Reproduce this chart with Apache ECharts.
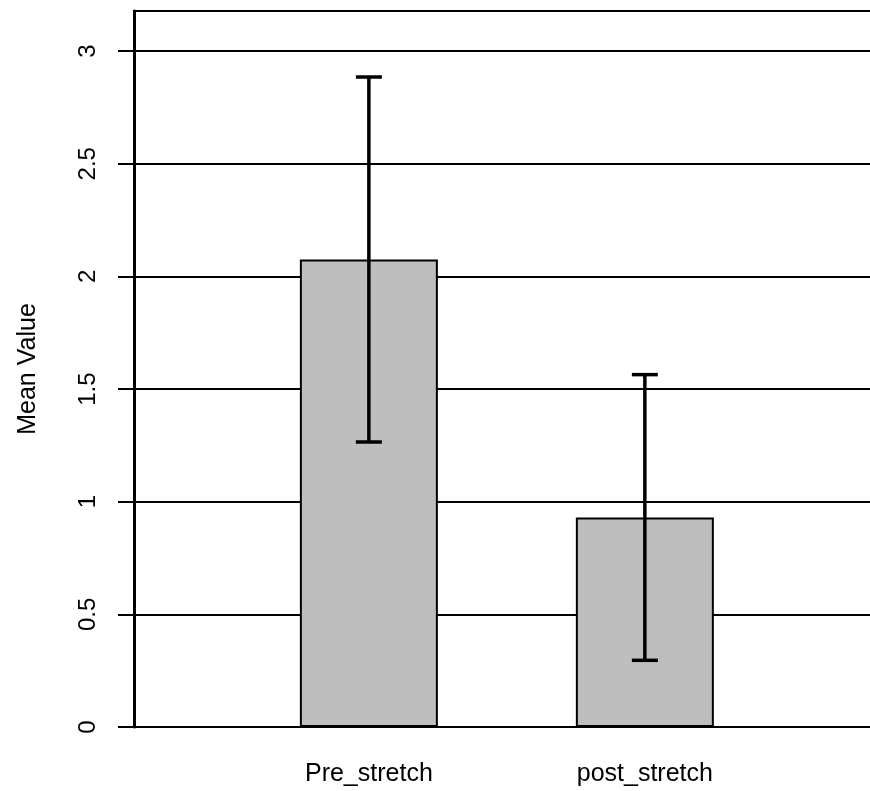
<!DOCTYPE html>
<html>
<head>
<meta charset="utf-8">
<script src="https://cdn.jsdelivr.net/npm/echarts@6/dist/echarts.min.js"></script>
<style>
  html, body { margin: 0; padding: 0; background: #fff; }
  #chart { width: 870px; height: 791px; }
</style>
</head>
<body>
<div id="chart"></div>
<script>
// Group names and their summary values
const categories = ['Pre_stretch', 'post_stretch'];
const meanValues = [2.075, 0.93];
const errorSizes = [0.81, 0.634];
const yTicks = [0, 0.5, 1, 1.5, 2, 2.5, 3];

const FONT = '"Liberation Sans", Arial, Helvetica, sans-serif';

const barData = categories.map((c, i) => [i, meanValues[i]]);
const errData = categories.map((c, i) => [i, meanValues[i] - errorSizes[i], meanValues[i] + errorSizes[i]]);

const chart = echarts.init(document.getElementById('chart'), null, { renderer: 'canvas' });

chart.setOption({
  animation: false,
  backgroundColor: '#ffffff',
  grid: {
    left: 134, top: 11, right: -10, bottom: 64,
    outerBoundsMode: 'none',
    containLabel: false,
    show: true, borderColor: '#000', borderWidth: 2, backgroundColor: 'transparent'
  },
  xAxis: {
    type: 'value',
    min: -0.851,
    max: 1.852,
    axisLine: { show: false },
    axisTick: { show: false },
    splitLine: { show: false },
    axisLabel: {
      customValues: [0, 1],
      formatter: v => categories[Math.round(v)],
      color: '#000',
      fontFamily: FONT,
      fontSize: 25,
      margin: 35
    }
  },
  yAxis: {
    type: 'value',
    min: 0,
    max: 3.178,
    name: 'Mean Value',
    nameLocation: 'middle',
    nameGap: 93,
    nameRotate: 90,
    nameTextStyle: { color: '#000', fontFamily: FONT, fontSize: 25 },
    axisLine: { show: true, onZero: false, lineStyle: { color: '#000', width: 3 } },
    axisTick: {
      show: true, inside: false, length: 16,
      customValues: yTicks,
      lineStyle: { color: '#000', width: 2 }
    },
    axisLabel: {
      customValues: yTicks,
      rotate: 90,
      color: '#000',
      fontFamily: FONT,
      fontSize: 24,
      margin: 34,
      formatter: v => String(v)
    },
    splitLine: { show: true, lineStyle: { color: '#000', width: 2 } }
  },
  series: [
    {
      type: 'bar',
      data: barData,
      barWidth: 138,
      itemStyle: { color: '#bebebe', borderColor: '#000', borderWidth: 2 },
      z: 2
    },
    {
      type: 'custom',
      data: errData,
      z: 5,
      encode: { x: 0, y: [1, 2] },
      renderItem: function (params, api) {
        const x = api.value(0);
        const lo = api.coord([x, api.value(1)]);
        const hi = api.coord([x, api.value(2)]);
        const half = 13;
        const style = { stroke: '#000', lineWidth: 3.5, fill: null };
        return {
          type: 'group',
          children: [
            { type: 'line', shape: { x1: lo[0], y1: lo[1], x2: hi[0], y2: hi[1] }, style: style },
            { type: 'line', shape: { x1: hi[0] - half, y1: hi[1], x2: hi[0] + half, y2: hi[1] }, style: style },
            { type: 'line', shape: { x1: lo[0] - half, y1: lo[1], x2: lo[0] + half, y2: lo[1] }, style: style }
          ]
        };
      }
    }
  ]
});
</script>
</body>
</html>
